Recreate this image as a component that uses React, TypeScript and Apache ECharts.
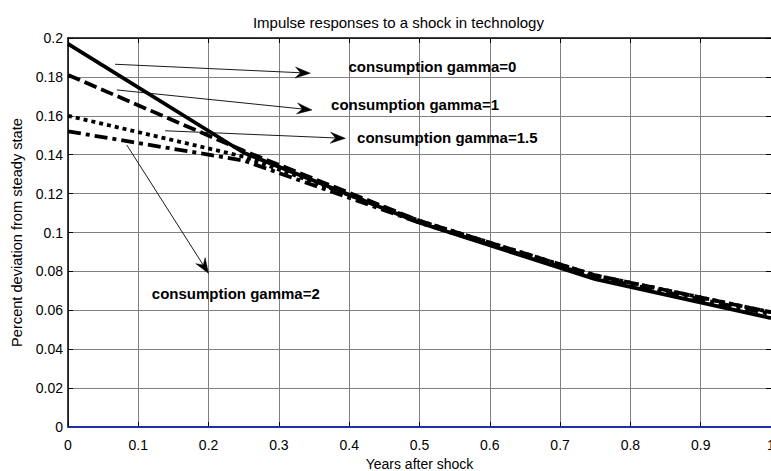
import React, { useEffect, useRef } from "react";
import * as echarts from "echarts";

// ---- data ----
const years = [0, 0.25, 0.5, 0.75, 1];
const gamma0 = [0.197, 0.141, 0.105, 0.076, 0.056];
const gamma1 = [0.181, 0.142, 0.106, 0.078, 0.059];
const gamma15 = [0.16, 0.139, 0.106, 0.078, 0.059];
const gamma2 = [0.152, 0.137, 0.105, 0.077, 0.058];
const zeroLine = [0, 0, 0, 0, 0];

const xTickLabels = ["0", "0.1", "0.2", "0.3", "0.4", "0.5", "0.6", "0.7", "0.8", "0.9", "1"];
const yTickLabels = ["0", "0.02", "0.04", "0.06", "0.08", "0.1", "0.12", "0.14", "0.16", "0.18", "0.2"];

const titleText = "Impulse responses to a shock in technology";
const xName = "Years after shock";
const yName = "Percent deviation from steady state";

// annotations (data coordinates)
const annotationLabels = [
  "consumption gamma=0",
  "consumption gamma=1",
  "consumption gamma=1.5",
  "consumption gamma=2",
];
const arrowFrom = [
  [0.067, 0.1865],
  [0.0694, 0.1733],
  [0.1382, 0.1523],
  [0.0836, 0.145],
];
const arrowTo = [
  [0.3447, 0.1819],
  [0.3471, 0.163],
  [0.3946, 0.1484],
  [0.1999, 0.079],
];
const labelAt = [
  [0.399, 0.1853],
  [0.3742, 0.1656],
  [0.4112, 0.1489],
  [0.1192, 0.0684],
];
const titleAt = [0.47, 0.2];

const FONT = "'Liberation Sans', Arial, Helvetica, sans-serif";

export default function App() {
  const ref = useRef<HTMLDivElement>(null);

  useEffect(() => {
    if (!ref.current) return;
    const chart = echarts.init(ref.current, undefined, { renderer: "svg" });

    const mk = (name: string, ys: number[], type: any, z: number, color = "#000", width = 3.8) => ({
      type: "line",
      name,
      data: years.map((x, i) => [x, ys[i]]),
      symbol: "none",
      showSymbol: false,
      lineStyle: { color, width, type, cap: "butt", join: "round" },
      z,
      silent: true,
    });

    const axisCommonX = { type: "value", min: 0, max: 1, interval: 0.1 };
    const axisCommonY = { type: "value", min: 0, max: 0.2, interval: 0.02 };

    chart.setOption({
      animation: false,
      backgroundColor: "#fff",
      grid: {
        left: 68,
        top: 38,
        width: 703,
        height: 389,
        containLabel: false,
        outerBoundsMode: "none",
      },
      xAxis: [
        {
          ...axisCommonX,
          position: "bottom",
          name: xName,
          nameLocation: "middle",
          nameGap: 29,
          nameTextStyle: { fontSize: 14, color: "#000", fontFamily: FONT },
          axisLine: { show: true, onZero: false, lineStyle: { color: "#000", width: 1 } },
          axisTick: { show: true, inside: true, length: 5, lineStyle: { color: "#000" } },
          axisLabel: {
            fontSize: 14,
            color: "#000",
            fontFamily: FONT,
            margin: 11,
            alignMaxLabel: "center",
            alignMinLabel: "center",
            formatter: (_v: number, i: number) => xTickLabels[i],
          },
          splitLine: { show: true, lineStyle: { color: "#808080", width: 1 } },
        },
        {
          ...axisCommonX,
          position: "top",
          axisLine: { show: true, onZero: false, lineStyle: { color: "#000", width: 1.5 } },
          axisTick: { show: true, inside: true, length: 5, lineStyle: { color: "#000" } },
          axisLabel: { show: false },
          splitLine: { show: false },
        },
      ],
      yAxis: [
        {
          ...axisCommonY,
          position: "left",
          name: yName,
          nameLocation: "middle",
          nameGap: 43,
          nameRotate: 90,
          nameTextStyle: { fontSize: 14.6, color: "#000", fontFamily: FONT },
          axisLine: { show: true, onZero: false, lineStyle: { color: "#000", width: 1.5 } },
          axisTick: { show: true, inside: true, length: 5, lineStyle: { color: "#000" } },
          axisLabel: {
            fontSize: 14,
            color: "#000",
            fontFamily: FONT,
            margin: 5,
            formatter: (_v: number, i: number) => yTickLabels[i],
          },
          splitLine: { show: true, lineStyle: { color: "#808080", width: 1 } },
        },
        {
          ...axisCommonY,
          position: "right",
          axisLine: { show: true, onZero: false, lineStyle: { color: "#000", width: 1 } },
          axisTick: { show: true, inside: true, length: 5, lineStyle: { color: "#000" } },
          axisLabel: { show: false },
          splitLine: { show: false },
        },
      ],
      series: [
        mk("zero", zeroLine, "solid", 3, "#1f2fa8", 2),
        mk("consumption gamma=2", gamma2, [13, 5, 4, 5], 4),
        mk("consumption gamma=1.5", gamma15, [4, 4], 5),
        mk("consumption gamma=1", gamma1, [13, 5], 6),
        mk("consumption gamma=0", gamma0, "solid", 7),
      ],
    });

    // annotations computed through the grid's coordinate system
    const toPx = (p: number[]) => chart.convertToPixel({ gridIndex: 0 }, p) as number[];
    const graphics: any[] = [];
    const L = 15;
    const W = 5.5;
    annotationLabels.forEach((label, i) => {
      const f = toPx(arrowFrom[i]);
      const t = toPx(arrowTo[i]);
      const dx = t[0] - f[0];
      const dy = t[1] - f[1];
      const len = Math.hypot(dx, dy);
      const ux = dx / len;
      const uy = dy / len;
      const nx = -uy;
      const ny = ux;
      const bx = t[0] - ux * L;
      const by = t[1] - uy * L;
      const notchX = t[0] - ux * L * 0.65;
      const notchY = t[1] - uy * L * 0.65;
      graphics.push({
        type: "line",
        shape: { x1: f[0], y1: f[1], x2: notchX, y2: notchY },
        style: { stroke: "#000", lineWidth: 0.9 },
        z: 20,
      });
      graphics.push({
        type: "polygon",
        shape: {
          points: [
            [t[0], t[1]],
            [bx + nx * W, by + ny * W],
            [notchX, notchY],
            [bx - nx * W, by - ny * W],
          ],
        },
        style: { fill: "#000", stroke: "#000", lineWidth: 0.5 },
        z: 20,
      });
      const lp = toPx(labelAt[i]);
      graphics.push({
        type: "text",
        x: lp[0],
        y: lp[1],
        style: {
          text: label,
          fill: "#000",
          font: `bold 15px ${FONT}`,
          textAlign: "left",
          textVerticalAlign: "middle",
        },
        z: 20,
      });
    });

    const tp = toPx(titleAt);
    graphics.push({
      type: "text",
      x: tp[0],
      y: tp[1] - 16,
      style: {
        text: titleText,
        fill: "#000",
        font: `15px ${FONT}`,
        textAlign: "center",
        textVerticalAlign: "middle",
      },
      z: 20,
    });

    chart.setOption({ graphic: graphics });

    return () => chart.dispose();
  }, []);

  return (
    <div
      ref={ref}
      style={{ position: "fixed", left: 0, top: 0, width: 771, height: 471, background: "#fff" }}
    />
  );
}
